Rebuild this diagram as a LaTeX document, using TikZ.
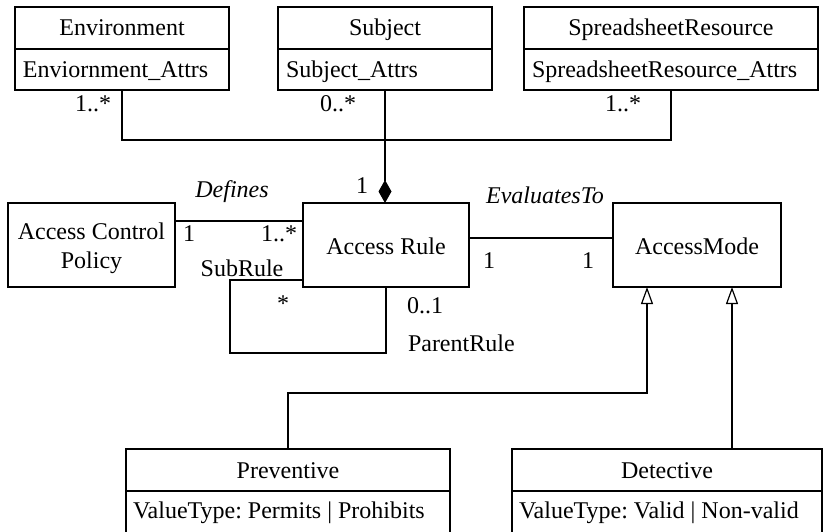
\documentclass[tikz,border=0pt]{standalone}
\usepackage{fontspec}
\setmainfont{Liberation Serif}
\usetikzlibrary{arrows.meta}
\frenchspacing
\begin{document}
\begin{tikzpicture}[x=1pt,y=-1pt,
  every node/.style={font=\fontsize{24}{28}\selectfont, inner sep=0pt, outer sep=0pt},
  cls/.style={draw, line width=1.2pt, minimum width=#1, minimum height=83pt},
  conn/.style={draw, line width=1.2pt},
  lbl/.style={anchor=base},
  lblw/.style={anchor=base west},
  comp/.style={conn, -{Diamond[length=23pt,width=13pt,fill=black]}},
  gen/.style={conn, -{Triangle[open,length=17pt,width=12pt,fill=white]}}
]
\useasboundingbox (0,0) rectangle (827,532);
\clip (0,0) rectangle (827,532);

% top classes
\node[cls=214pt] (env) at (122,48.5) {};
\node[cls=214pt] (subj) at (385,48.5) {};
\node[cls=294pt] (sr) at (671,48.5) {};
\foreach \b/\t/\a in {env/Environment/Enviornment\_Attrs, subj/Subject/Subject\_Attrs, sr/SpreadsheetResource/SpreadsheetResource\_Attrs}{
  \draw[conn] ([yshift=-42pt]\b.north west) -- ([yshift=-42pt]\b.north east);
  \node[lbl] (\b-t) at ([yshift=-29pt]\b.north) {\t};
  \node[lblw] (\b-a) at ([xshift=8pt,yshift=-71pt]\b.north west) {\a};
}

% middle
\node[cls=167pt, minimum height=84pt] (acp) at (91.5,245) {};
\node[lbl] (acp-t1) at (91.5,239) {Access Control};
\node[lbl] (acp-t2) at (91.5,268) {Policy};
\node[cls=166pt, minimum height=84pt] (ar) at (386,245) {};
\node[lbl] (ar-t) at (386,254) {Access Rule};
\node[cls=168pt, minimum height=84pt] (am) at (697,245) {};
\node[lbl] (am-t) at (697,254) {AccessMode};

% bottom classes (run past the lower edge)
\node[cls=324pt, minimum height=100pt] (prev) at (288,499) {};
\node[cls=310pt, minimum height=100pt] (det) at (667,499) {};
\foreach \b/\t/\a in {prev/Preventive/{ValueType: Permits | Prohibits}, det/Detective/{ValueType: Valid | Non-valid}}{
  \draw[conn] ([yshift=-42pt]\b.north west) -- ([yshift=-42pt]\b.north east);
  \node[lbl] (\b-t) at ([yshift=-29pt]\b.north) {\t};
  \node[lblw] (\b-a) at ([xshift=7pt,yshift=-69pt]\b.north west) {\a};
}

% composition
\coordinate (j) at (386,140);
\draw[conn] (env.south) |- (j) -| (sr.south);
\draw[comp] (subj.south) -- (subj.south |- ar.north);
\node[lbl] (m1) at (93,112) {1..*};
\node[lbl] (m2) at (338,112) {0..*};
\node[lbl] (m3) at (623,112) {1..*};
\node[lbl] (m4) at (362,193) {1};

% Defines
\draw[conn] ([yshift=24pt]acp.east) -- ([yshift=24pt]ar.west);
\node[lbl] (def) at (232,197) {\itshape Defines};
\node[lbl] (m5) at (189,241) {1};
\node[lbl] (m6) at (279,241) {1..*};

% self association
\coordinate (lp) at (230,353);
\draw[conn] ([yshift=-35pt]ar.west) -| (lp) -| (ar.south);
\node[lbl] (sub) at (242,276) {SubRule};
\node[lbl] (m7) at (283,311) {*};
\node[lblw] (m8) at (407,313) {0..1};
\node[lblw] (par) at (408,351) {ParentRule};

% EvaluatesTo
\draw[conn] ([yshift=7pt]ar.east) -- ([yshift=7pt]am.west);
\node[lbl] (ev) at (545,203) {\itshape EvaluatesTo};
\node[lbl] (m9) at (489,268) {1};
\node[lbl] (m10) at (588,268) {1};

% generalisation
\coordinate (g1) at ([xshift=-50pt]am.south);
\coordinate (g2) at ([xshift=35pt]am.south);
\coordinate (h) at (288,393);
\draw[gen] (prev.north) -- (h) -| (g1);
\draw[gen] (det.north -| g2) -- (g2);
\end{tikzpicture}
\end{document}
